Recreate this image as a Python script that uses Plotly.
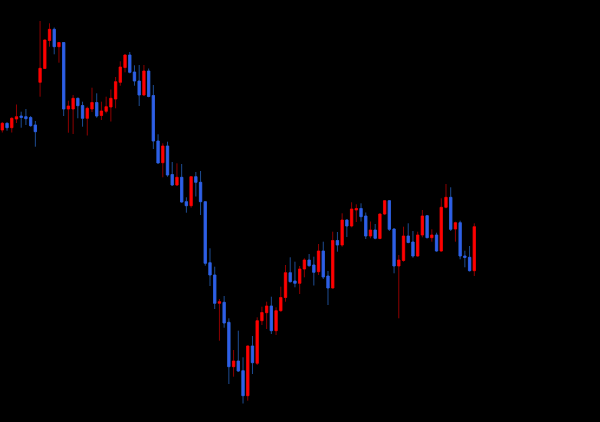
import plotly.graph_objects as go

# candle index (trading sessions)
sessions = list(range(101))

open_ = [292, 298.7, 294.3, 303, 306, 305.3, 304.5, 297, 339.7, 353.5,
         381.5, 392.7, 375.3, 379.5, 313, 313, 323.7, 316.5, 303.7, 313,
         319.5, 306.5, 310.7, 315, 323, 339.7, 354.5, 367, 350, 341,
         327, 351, 326.5, 281, 259.3, 276, 247.5, 237, 244.7, 220.3,
         216.3, 245.3, 239.7, 220.3, 159.3, 147, 118.7, 119.7, 99.7, 55.3,
         61, 51.3, 26.3, 76, 58.7, 101.3, 109.3, 116, 91.3, 111.3,
         124.5, 149.3, 141, 138.7, 153, 162, 157, 150.3, 171, 146,
         134, 181.5, 177, 202, 196, 212, 213.5, 206, 186, 192,
         183.5, 208, 221.3, 193, 156, 161.5, 186, 180, 166, 187,
         206.3, 184.3, 187, 171, 214.7, 224.7, 193, 199.3, 166, 164.7,
         151.3]
high = [300, 299.7, 304.7, 317.5, 310.3, 313, 306, 301, 401, 382.5,
        398.7, 394.5, 379.7, 379.7, 321.3, 327, 324.3, 320.3, 315.3, 334.3,
        328.7, 320.3, 325.3, 332.5, 345, 360.7, 367.7, 370, 356.7, 357,
        357, 353.5, 337, 287.7, 278.7, 280.3, 260, 258.7, 258, 224.7,
        246, 250, 251, 221, 173.7, 155.3, 123, 126, 103.7, 72,
        91.3, 64.7, 76.5, 86, 104.7, 115.3, 120.3, 125.3, 114.7, 135.3,
        157, 164.7, 160.3, 156, 163.7, 168, 165.3, 178, 180.3, 151,
        190.3, 190, 208.7, 202.7, 219.7, 217.7, 218.7, 209.5, 200.5, 198,
        208.5, 222, 222, 193.7, 167, 195.3, 198.7, 191, 190.3, 212,
        207, 192.7, 189.3, 223.7, 238, 234.7, 200.3, 201.3, 171.3, 176,
        198.7]
low = [289.5, 291.3, 289.5, 299, 294.3, 297, 295.3, 275.3, 325.3, 353,
       375.3, 367.7, 359.3, 306, 289.3, 288, 303.7, 295.3, 286.5, 310,
       304.3, 302, 308.7, 300.5, 313.7, 336.3, 349.7, 348.7, 336.3, 316,
       326.3, 324.7, 273, 258.5, 244.7, 245.3, 236, 236, 219.3, 209.3,
       214.3, 225.5, 207, 156.3, 136, 113, 81.3, 94.3, 38, 45.3,
       50, 18.5, 21.3, 48, 57, 97, 93, 88, 87, 110.3,
       120.3, 139.5, 134.7, 128, 144.7, 155.3, 136.5, 147, 143, 117,
       133.5, 170.3, 175.3, 185, 194.7, 200, 200.5, 183, 183.7, 182.7,
       182.7, 207, 191, 148.7, 103.7, 160.3, 178.7, 164.3, 165.3, 184.7,
       183.7, 180.3, 170.3, 170.3, 213.7, 191, 180.3, 162.7, 154.7, 150.5,
       146]
close = [298.7, 294.3, 303.7, 305.3, 304.5, 303.3, 296.3, 290.3, 353.7, 382,
         392.7, 375.3, 379.5, 313, 316, 323.7, 316.3, 303.7, 313.7, 319.5,
         306, 311, 315.3, 323.7, 340.3, 355, 367, 349.7, 341, 327,
         351, 325.5, 281, 259, 276, 247, 237, 244.7, 220, 216.3,
         245.3, 239.7, 220.3, 158.7, 147, 118.7, 120.3, 99, 55.3, 61,
         51, 26.3, 76, 59.3, 101.3, 109.5, 116, 91.3, 111.3, 124.5,
         149.3, 140.3, 138.7, 153, 162, 156.3, 149.7, 171, 145, 134,
         181.5, 177, 202, 196, 213, 213.5, 205.3, 186, 192, 183.7,
         208, 221.3, 192.7, 156, 162, 186, 179.5, 166, 187, 206,
         184.3, 187, 171, 214.7, 224.7, 192.7, 199.3, 166, 164.5, 151.3,
         195.3]

UP_BODY, DOWN_BODY = "#FF0000", "#2F5FE8"
UP_WICK, DOWN_WICK = "#8E0000", "#1E4C92"

body_hi = [max(o, c) for o, c in zip(open_, close)]
body_lo = [min(o, c) for o, c in zip(open_, close)]

fig = go.Figure()
# wicks (darker shade)
fig.add_trace(go.Candlestick(
    x=sessions, open=open_, high=high, low=low, close=close,
    increasing=dict(line=dict(color=UP_WICK, width=1), fillcolor=UP_WICK),
    decreasing=dict(line=dict(color=DOWN_WICK, width=1), fillcolor=DOWN_WICK),
    showlegend=False, hoverinfo="skip"))
# bodies (bright)
fig.add_trace(go.Candlestick(
    x=sessions, open=open_, high=body_hi, low=body_lo, close=close,
    increasing=dict(line=dict(color=UP_BODY, width=0.5), fillcolor=UP_BODY),
    decreasing=dict(line=dict(color=DOWN_BODY, width=0.5), fillcolor=DOWN_BODY),
    showlegend=False))

fig.update_layout(
    width=600, height=422,
    margin=dict(l=0, r=0, t=0, b=0),
    paper_bgcolor="black", plot_bgcolor="black",
    showlegend=False,
    xaxis=dict(visible=False, range=[-0.49, 126.63],
               rangeslider=dict(visible=False), showgrid=False, zeroline=False),
    yaxis=dict(visible=False, range=[0, 422], showgrid=False, zeroline=False),
)

fig.write_html(
    "out.html",
    config={"displayModeBar": False},
    post_script="document.body.style.margin='0';"
                "document.body.style.background='black';"
                "document.body.style.overflow='hidden';",
)
